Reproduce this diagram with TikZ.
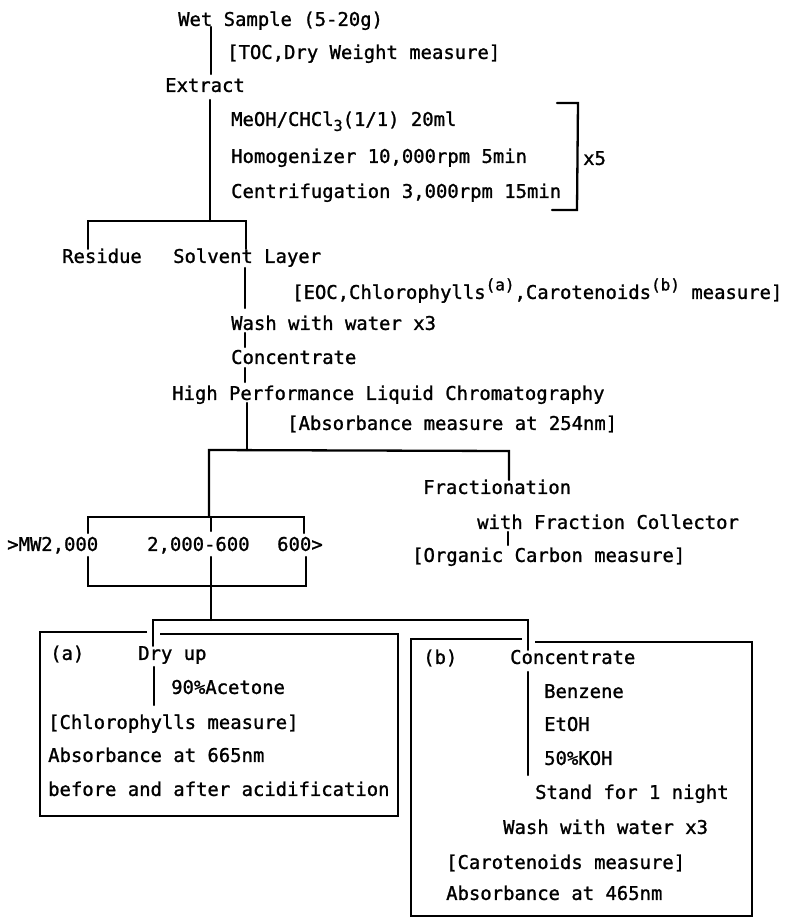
\documentclass[tikz,border=0pt]{standalone}
\usepackage{fontspec}
\newfontfamily\djm[FakeBold=1.2]{DejaVu Sans Mono}
\newcommand\supx[1]{\raisebox{8.5pt}{\fontsize{16}{16}\selectfont #1}}
\newcommand\subx[1]{\raisebox{-5pt}{\fontsize{15}{15}\selectfont #1}}
\tikzset{
  txt/.style={anchor=west, inner sep=0pt, font=\djm\fontsize{18.9}{22}\selectfont, text height=13.8pt, text depth=0pt},
  ln/.style={line width=2.3pt, line cap=round, line join=miter},
  boxln/.style={line width=2.3pt, line cap=butt, line join=miter}
}
\begin{document}
\begin{tikzpicture}[x=1pt, y=-1pt]
\useasboundingbox (0,0) rectangle (788,919);
\fill[white] (0,0) rectangle (788,919);

% texts, main column
\node[txt] (ws)   at (178,19)  {Wet Sample (5-20g)};
\node[txt] (toc)  at (227,52)  {[TOC,Dry Weight measure]};
\node[txt] (ext)  at (165,85)  {Extract};
\node[txt] (meoh) at (231,119) {MeOH/CHCl\subx{3}(1/1) 20ml};
\node[txt] (hom)  at (231,156) {Homogenizer 10,000rpm 5min};
\node[txt] (cen)  at (231,191) {Centrifugation 3,000rpm 15min};
\node[txt] (x5)   at (583,158) {x5};
\node[txt] (res)  at (62,256)  {Residue};
\node[txt] (sol)  at (173,256) {Solvent Layer};
\node[txt] (eoc)  at (292,292) {[EOC,Chlorophylls\supx{(a)},Carotenoids\supx{(b)} measure]};
\node[txt] (wash) at (231,323) {Wash with water x3};
\node[txt] (conc) at (231,357) {Concentrate};
\node[txt] (hplc) at (172,393) {High Performance Liquid Chromatography};
\node[txt] (abs)  at (287,423) {[Absorbance measure at 254nm]};
\node[txt] (frac) at (423,487) {Fractionation};
\node[txt] (wfc)  at (477,522) {with Fraction Collector};
\node[txt] (oc)   at (412,555) {[Organic Carbon measure]};
\node[txt] (mw1)  at (7,544)   {>MW2,000};
\node[txt] (mw2)  at (147,544) {2,000-600};
\node[txt] (mw3)  at (277,544) {600>};

% box (a)
\node[txt] (la)   at (50,653)  {(a)};
\node[txt] (dry)  at (138,653) {Dry up};
\node[txt] (ace)  at (171,687) {90\%Acetone};
\node[txt] (chm)  at (48,722)  {[Chlorophylls measure]};
\node[txt] (a665) at (48,755)  {Absorbance at 665nm};
\node[txt] (bef)  at (48,789)  {before and after acidification};

% box (b)
\node[txt] (lb)   at (423,657) {(b)};
\node[txt] (conb) at (510,657) {Concentrate};
\node[txt] (benz) at (544,691) {Benzene};
\node[txt] (etoh) at (544,724) {EtOH};
\node[txt] (koh)  at (544,758) {50\%KOH};
\node[txt] (std)  at (535,792) {Stand for 1 night};
\node[txt] (washb) at (503,827) {Wash with water x3};
\node[txt] (carm) at (446,862) {[Carotenoids measure]};
\node[txt] (a465) at (446,893) {Absorbance at 465nm};

% junction coordinates
\coordinate (p1) at (211,27);  \coordinate (p2) at (211,74);
\coordinate (p3) at (210,100); \coordinate (p4) at (210,221);
\coordinate (bl) at (88,221);  \coordinate (br) at (246,221);
\coordinate (q1) at (245,268); \coordinate (q2) at (245,308);
\coordinate (q3) at (245,333); \coordinate (q4) at (245,347);
\coordinate (q5) at (245,368); \coordinate (q6) at (245,382);
\coordinate (h1) at (247,403); \coordinate (h2) at (247,450);
\coordinate (hl) at (209,450); \coordinate (hr) at (509,451);
\coordinate (f1) at (508,532); \coordinate (f2) at (508,545);
\coordinate (mt) at (209,517); \coordinate (mb) at (211,586);
\coordinate (sp) at (211,620);
\coordinate (sa) at (153,620); \coordinate (sb) at (528,620);

% connectors
\draw[ln] (p1) -- (p2);
\draw[ln] (p3) -- (p4);
\draw[ln] (bl |- res.north) -- (bl) -- (br) -- (br |- sol.north);
\draw[ln] (q1) -- (q2);
\draw[ln] (q3) -- (q4);
\draw[ln] (q5) -- (q6);
\draw[ln] (h1) -- (h2);
\draw[ln] (mt) -- (hl) -- (hr) -- (hr |- frac.north);
\draw[ln] (f1) -- (f2);
% x5 bracket
\draw[ln] (557,103) -- (578,103) -- (577,210) -- (552,210);
% MW bracket
\draw[ln] (88,533) -- (88,517) -- (304,517) -- (304,533);
\draw[ln] (211,517) -- (211,531);
\draw[ln] (88,557) -- (88,586) -- (306,586) -- (306,557);
\draw[ln] (211,557) -- (sp);
\draw[ln] (sa |- dry.north) -- (sa) -- (sb) -- (sb |- conb.north);

% box (a)
\draw[boxln] (147,632) -- (40,632) -- (40,816) -- (398,816) -- (398,634) -- (160,634);
\draw[ln] (154,667) -- (154,705);
% box (b)
\draw[boxln] (522,639) -- (411,639) -- (411,916) -- (752,916) -- (752,642) -- (535,642);
\draw[ln] (528,672) -- (528,775);
\end{tikzpicture}
\end{document}
